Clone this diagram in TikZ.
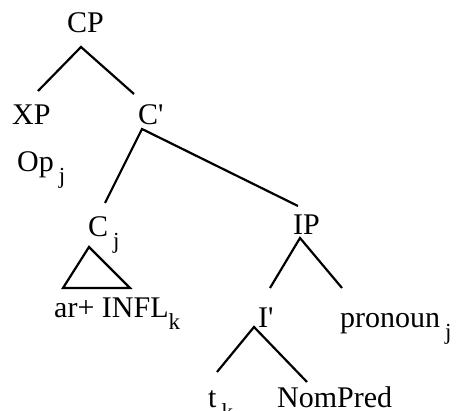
\documentclass[tikz,border=0pt]{standalone}
\usepackage{fontspec}
\setmainfont{Liberation Serif}
\newcommand{\lsub}[1]{\raisebox{-12pt}{\fontsize{23}{26}\selectfont #1}}

\begin{document}
\begin{tikzpicture}[x=1pt,y=-1pt,
  lbl/.style={inner sep=0pt,anchor=base west,font=\fontsize{30}{36}\selectfont},
  branch/.style={line width=2.2pt}]
\useasboundingbox (0,0) rectangle (456,411);
% labels of the tree
\node[lbl] (CP) at (67,33) {CP};
\node[lbl] (XP) at (12,125) {XP};
\node[lbl] (Cbar) at (138,125) {C\textquotesingle};
\node[lbl] (Op) at (17,172) {Op\,\lsub{j}};
\node[lbl] (Cj) at (88,237) {C\,\lsub{j}};
\node[lbl] (INFL) at (54,318) {ar+ INFL\lsub{k}};
\node[lbl] (IP) at (293,235) {IP};
\node[lbl] (Ibar) at (258,328) {I\textquotesingle};
\node[lbl] (pron) at (340,328) {pronoun\,\lsub{j}};
\node[lbl] (tk) at (208,408) {t\,\lsub{k}};
\node[lbl] (NomPred) at (277,408) {NomPred};
% branches
\draw[branch] ([xshift=26pt,yshift=34pt]XP.base west) -- ([xshift=14pt,yshift=-14pt]CP.base west)
  -- ([xshift=-4pt,yshift=31pt]Cbar.base west);
\draw[branch] ([xshift=17pt,yshift=34pt]Cj.base west) -- ([xshift=4pt,yshift=-4pt]Cbar.base west)
  -- ([xshift=5pt,yshift=29pt]IP.base west);
\draw[branch] ([xshift=12pt,yshift=40pt]Ibar.base west) -- ([xshift=7pt,yshift=-3pt]IP.base west)
  -- ([xshift=2pt,yshift=40pt]pron.base west);
\draw[branch] ([xshift=9pt,yshift=36pt]tk.base west) -- ([xshift=-4pt,yshift=1pt]Ibar.base west)
  -- ([xshift=30pt,yshift=26pt]NomPred.base west);
% triangle over the C head
\draw[branch] ([xshift=9pt,yshift=30pt]INFL.base west) -- ([xshift=1pt,yshift=-10pt]Cj.base west)
  -- ([xshift=76pt,yshift=30pt]INFL.base west) -- cycle;
\end{tikzpicture}
\end{document}
